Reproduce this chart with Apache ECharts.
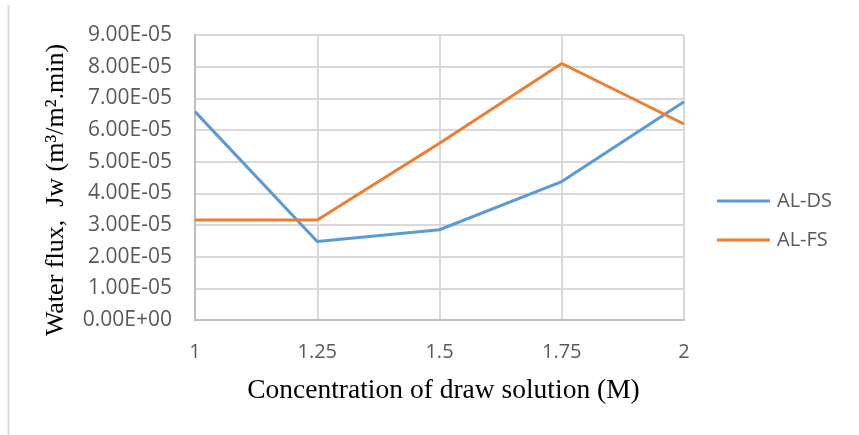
<!DOCTYPE html>
<html>
<head>
<meta charset="utf-8">
<script src="https://cdn.jsdelivr.net/npm/echarts@6/dist/echarts.min.js"></script>
<style>
  html, body { margin: 0; padding: 0; background: #ffffff; }
  #chart { width: 859px; height: 435px; }
</style>
</head>
<body>
<div id="chart"></div>
<script>
// Draw solution concentrations (M)
const concentrations = ['1', '1.25', '1.5', '1.75', '2'];
// Water flux Jw (m3/m2.min)
const alDS = [6.58e-5, 2.48e-5, 2.85e-5, 4.37e-5, 6.89e-5];
const alFS = [3.16e-5, 3.16e-5, 5.58e-5, 8.10e-5, 6.19e-5];
const seriesNames = ['AL-DS', 'AL-FS'];
const seriesColors = ['#5b9bd5', '#ed7d31'];
const yTitle = 'Water flux,  Jw (m³/m².min)';
const xTitle = 'Concentration of draw solution (M)';

const labelFont = '"Open Sans", "Noto Sans", sans-serif';
const titleFont = '"Liberation Serif", "Times New Roman", serif';

const chart = echarts.init(document.getElementById('chart'), null, { renderer: 'canvas' });

chart.setOption({
  animation: false,
  backgroundColor: '#ffffff',
  color: seriesColors,
  graphic: [
    {
      // thin frame edge on the left
      type: 'line',
      shape: { x1: 8.5, y1: 5, x2: 8.5, y2: 435 },
      style: { stroke: '#d9d9d9', lineWidth: 2 }
    },
    {
      // vertical axis title
      type: 'text',
      x: 56,
      y: 190,
      rotation: Math.PI / 2,
      style: {
        text: yTitle,
        font: '26px ' + titleFont,
        fill: '#000000',
        align: 'center',
        verticalAlign: 'middle'
      }
    }
  ],
  grid: { left: 195, right: 175, top: 35, bottom: 115, containLabel: false },
  legend: {
    orient: 'vertical',
    left: 712,
    top: 186,
    itemWidth: 53,
    itemHeight: 3,
    itemGap: 19,
    icon: 'rect',
    textStyle: { fontFamily: labelFont, fontSize: 20, color: '#595959', padding: [0, 0, 0, 2] },
    data: seriesNames
  },
  xAxis: {
    type: 'category',
    data: concentrations,
    boundaryGap: false,
    name: xTitle,
    nameLocation: 'middle',
    nameGap: 57,
    nameMoveOverlap: false,
    nameTextStyle: { fontFamily: titleFont, fontSize: 27.5, color: '#000000', padding: [0, 0, 0, 8] },
    axisLine: { lineStyle: { color: '#bfbfbf', width: 2 } },
    axisTick: { show: false },
    axisLabel: { show: true, fontFamily: labelFont, fontSize: 20, color: '#595959', margin: 22 },
    splitLine: { show: true, lineStyle: { color: '#d9d9d9', width: 2 } }
  },
  yAxis: {
    type: 'value',
    min: 0,
    max: 9e-5,
    interval: 1e-5,
    axisLine: { show: true, lineStyle: { color: '#bfbfbf', width: 2 } },
    axisTick: { show: false },
    axisLabel: {
      show: true,
      fontFamily: labelFont, fontSize: 21, color: '#595959', margin: 23,
      formatter: function (v) {
        const s = Number(v).toExponential(2).toUpperCase();
        return s.replace(/E([+-])(\d)$/, 'E$10$2');
      }
    },
    splitLine: { show: true, lineStyle: { color: '#d9d9d9', width: 2 } }
  },
  series: [
    {
      name: seriesNames[0], type: 'line', data: alDS,
      symbol: 'none', lineStyle: { width: 3, color: seriesColors[0] }
    },
    {
      name: seriesNames[1], type: 'line', data: alFS,
      symbol: 'none', lineStyle: { width: 3, color: seriesColors[1] }
    }
  ]
});
</script>
</body>
</html>
